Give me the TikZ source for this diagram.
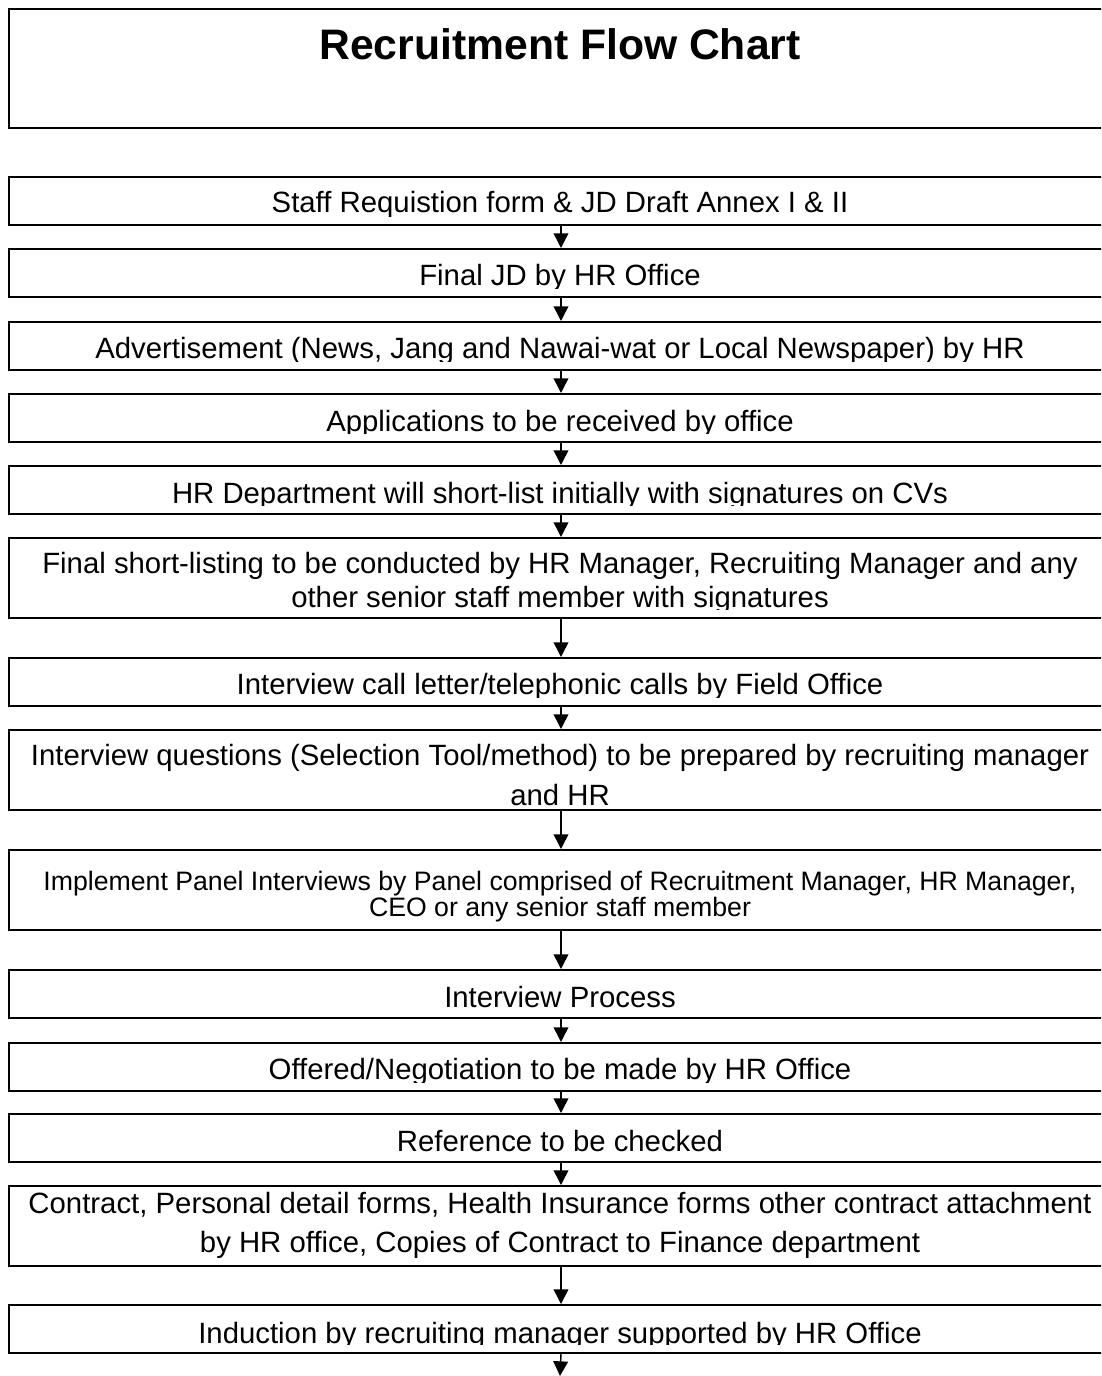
\documentclass[tikz,border=0pt]{standalone}
\usepackage{fontspec}
\setmainfont{Liberation Sans}
\usetikzlibrary{arrows.meta}

\begin{document}
\begin{tikzpicture}[x=0.75pt,y=-0.75pt,
  box/.style={draw,line width=1.5pt,anchor=north west,minimum width=828pt,
              minimum height=36pt,inner sep=0pt},
  tallbox/.style={box,minimum height=60pt},
  txt/.style={anchor=base,inner sep=0pt,font=\fontsize{22}{26}\selectfont},
  smalltxt/.style={txt,font=\fontsize{20}{24}\selectfont},
  flow/.style={-{Triangle[width=11pt,length=11pt]},line width=1.1pt}
]
  \useasboundingbox (0,0) rectangle (1101,1376);
  \clip (0,0) rectangle (1101,1376);
  % title
  \node[box,minimum height=89pt] (head) at (8,8) {};
  \node[anchor=base,inner sep=0pt,font=\fontsize{32}{38}\selectfont\bfseries] (title) at (560,60) {Recruitment Flow Chart};
  % steps
  \node[box] (s1) at (8,176) {};
  \node[box] (s2) at (8,248) {};
  \node[box] (s3) at (8,321) {};
  \node[box] (s4) at (8,393) {};
  \node[box] (s5) at (8,465) {};
  \node[tallbox] (s6) at (8,537) {};
  \node[box] (s7) at (8,657) {};
  \node[tallbox] (s8) at (8,729) {};
  \node[tallbox] (s9) at (8,849) {};
  \node[box] (s10) at (8,969) {};
  \node[box] (s11) at (8,1042) {};
  \node[box] (s12) at (8,1113) {};
  \node[tallbox] (s13) at (8,1185) {};
  \node[box] (s14) at (8,1304) {};
  % text, cut off near the lower edge of each box
  \begin{scope}
    \clip (s1.north west) rectangle ([yshift=7pt]s1.south east)
          (s2.north west) rectangle ([yshift=7pt]s2.south east)
          (s3.north west) rectangle ([yshift=7pt]s3.south east)
          (s4.north west) rectangle ([yshift=7pt]s4.south east)
          (s5.north west) rectangle ([yshift=7pt]s5.south east)
          (s6.north west) rectangle ([yshift=7pt]s6.south east)
          (s7.north west) rectangle ([yshift=7pt]s7.south east)
          (s8.north west) rectangle ([yshift=1.5pt]s8.south east)
          (s9.north west) rectangle ([yshift=7.5pt]s9.south east)
          (s10.north west) rectangle ([yshift=7pt]s10.south east)
          (s11.north west) rectangle ([yshift=7pt]s11.south east)
          (s12.north west) rectangle ([yshift=7pt]s12.south east)
          (s13.north west) rectangle ([yshift=7pt]s13.south east)
          (s14.north west) rectangle ([yshift=7pt]s14.south east);
    \node[txt] (t1) at (560,213) {Staff Requistion form \& JD Draft Annex I \& II};
    \node[txt] (t2) at (560,286) {Final JD by HR Office};
    \node[txt] (t3) at (560,358) {Advertisement (News, Jang and Nawai-wat or Local Newspaper) by HR};
    \node[txt] (t4) at (560,431) {Applications to be received by office};
    \node[txt] (t5) at (560,503) {HR Department will short-list initially with signatures on CVs};
    \node[txt] (t6a) at (560,573) {Final short-listing to be conducted by HR Manager, Recruiting Manager and any};
    \node[txt] (t6b) at (560,607) {other senior staff member with signatures};
    \node[txt] (t7) at (560,694) {Interview call letter/telephonic calls by Field Office};
    \node[txt] (t8a) at (560,765) {Interview questions (Selection Tool/method) to be prepared by recruiting manager};
    \node[txt] (t8b) at (560,805) {and HR};
    \node[smalltxt] (t9a) at (560,890) {Implement Panel Interviews by Panel comprised of Recruitment Manager, HR Manager,};
    \node[smalltxt] (t9b) at (560,916) {CEO or any senior staff member};
    \node[txt] (t10) at (560,1007) {Interview Process};
    \node[txt] (t11) at (560,1079) {Offered/Negotiation to be made by HR Office};
    \node[txt] (t12) at (560,1151) {Reference to be checked};
    \node[txt] (t13a) at (560,1213) {Contract, Personal detail forms, Health Insurance forms other contract attachment};
    \node[txt] (t13b) at (560,1252) {by HR office, Copies of Contract to Finance department};
    \node[txt] (t14) at (560,1343) {Induction by recruiting manager supported by HR Office};
  \end{scope}
  % arrows
  \draw[flow] (s1.south) -- (s2.north);
  \draw[flow] (s2.south) -- (s3.north);
  \draw[flow] (s3.south) -- (s4.north);
  \draw[flow] (s4.south) -- (s5.north);
  \draw[flow] (s5.south) -- (s6.north);
  \draw[flow] (s6.south) -- (s7.north);
  \draw[flow] (s7.south) -- (s8.north);
  \draw[flow] (s8.south) -- (s9.north);
  \draw[flow] (s9.south) -- (s10.north);
  \draw[flow] (s10.south) -- (s11.north);
  \draw[flow] (s11.south) -- (s12.north);
  \draw[flow] (s12.south) -- (s13.north);
  \draw[flow] (s13.south) -- (s14.north);
  \coordinate (end) at (560,1376);
  \draw[flow] (s14.south) -- (end);
\end{tikzpicture}
\end{document}
